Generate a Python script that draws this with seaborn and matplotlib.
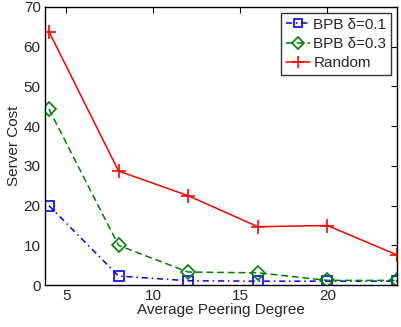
import pandas as pd
import matplotlib
matplotlib.use('Agg')
import matplotlib.pyplot as plt
import seaborn as sns

# values
degree = [4, 8, 12, 16, 20, 24]
bpb_01 = [20.0, 2.3, 1.1, 1.0, 1.0, 1.0]
bpb_03 = [44.3, 10.0, 3.3, 3.1, 1.2, 1.2]
random_cost = [63.8, 28.7, 22.5, 14.7, 15.0, 7.6]

df = pd.DataFrame({'degree': degree, 'bpb01': bpb_01, 'bpb03': bpb_03, 'random': random_cost})

sns.set_style('white')
plt.rcParams['font.family'] = ['Liberation Sans', 'DejaVu Sans']
plt.rcParams['xtick.direction'] = 'in'
plt.rcParams['ytick.direction'] = 'in'

fig = plt.figure(figsize=(4.01, 3.27), dpi=100)
ax = fig.add_axes([0.112, 0.128, 0.878, 0.851])

sns.lineplot(data=df, x='degree', y='bpb01', ax=ax, color='blue', linestyle=(0, (4, 2.5, 1, 2.5)),
             marker='s', markersize=6.5, markerfacecolor='none', markeredgecolor='blue',
             markeredgewidth=1.2, linewidth=1.1, label='BPB \u03b4=0.1')
sns.lineplot(data=df, x='degree', y='bpb03', ax=ax, color='green', linestyle=(0, (4.5, 2.5)),
             marker='D', markersize=7, markerfacecolor='none', markeredgecolor='green',
             markeredgewidth=1.2, linewidth=1.1, label='BPB \u03b4=0.3')
sns.lineplot(data=df, x='degree', y='random', ax=ax, color='red', linestyle='-',
             marker='+', markersize=10, markeredgecolor='red', markeredgewidth=1.2,
             linewidth=1.1, label='Random')

ax.set_xlim(3.77, 24)
ax.set_ylim(0, 70)
ax.set_xticks([5, 10, 15, 20])
ax.set_yticks(range(0, 71, 10))
ax.tick_params(labelsize=11, top=True, right=True, length=4, width=0.8, pad=3, color='black')
ax.set_xlabel('Average Peering Degree', fontsize=11, labelpad=0)
ax.set_ylabel('Server Cost', fontsize=11, labelpad=2)
for s in ax.spines.values():
    s.set_color('black')
    s.set_linewidth(1.0)

leg = ax.legend(loc='upper right', fontsize=11, frameon=True, fancybox=False,
                edgecolor='black', borderpad=0.3, labelspacing=0.35, markerscale=0.85,
                handlelength=1.6, handletextpad=0.2, borderaxespad=0.4)
leg.get_frame().set_linewidth(1.0)

fig.savefig('out.png', dpi=100)
